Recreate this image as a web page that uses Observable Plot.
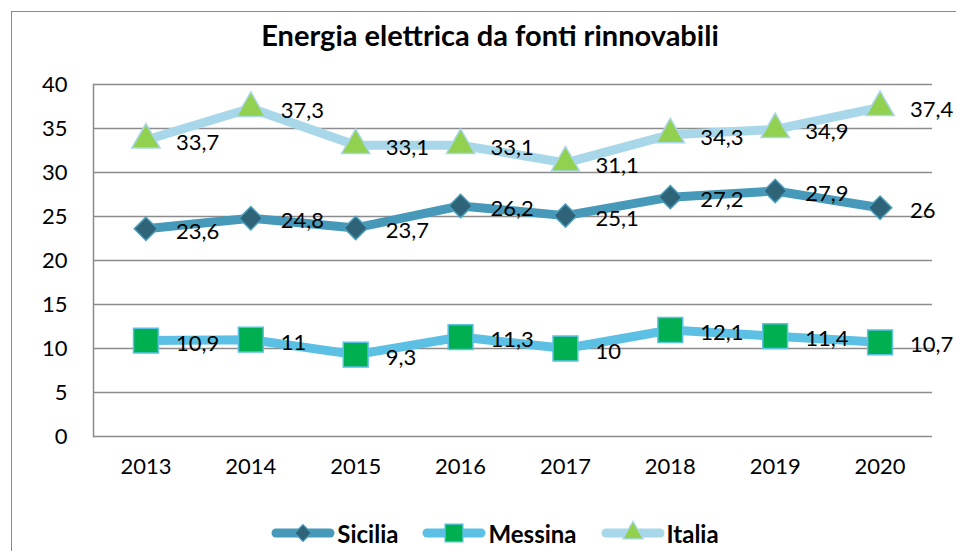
<!DOCTYPE html>
<html>
<head>
<meta charset="utf-8">
<script src="https://cdn.jsdelivr.net/npm/d3@7"></script>
<script src="https://cdn.jsdelivr.net/npm/@observablehq/plot@0.6"></script>
<style>
  html, body { margin: 0; padding: 0; background: #fff; }
  #wrap { position: relative; width: 956px; height: 551px; overflow: hidden; font-family: Lato, "Open Sans", sans-serif; }
  #border { position: absolute; left: 11px; top: 11px; width: 1000px; height: 600px; border-left: 1px solid #8a8a8a; border-top: 1px solid #8a8a8a; }
  #title { position: absolute; left: 0; top: 17px; width: 980px; text-align: center; font-weight: 700; font-size: 29px; color: #000; }
  #chart { position: absolute; left: 0; top: 60px; }
  #legend { position: absolute; left: 0; top: 518px; width: 990px; display: flex; justify-content: center; align-items: center; gap: 24px; }
  .item { display: flex; align-items: center; gap: 2px; font-weight: 700; font-size: 24px; color: #000; }
  .item svg { display: block; }
</style>
</head>
<body>
<div id="wrap">
  <div id="border"></div>
  <div id="title">Energia elettrica da fonti rinnovabili</div>
  <div id="chart"></div>
  <div id="legend"></div>
</div>
<script>
// ---- data ----
const years = ["2013", "2014", "2015", "2016", "2017", "2018", "2019", "2020"];
const seriesNames = ["Sicilia", "Messina", "Italia"];
const sicilia = [23.6, 24.8, 23.7, 26.2, 25.1, 27.2, 27.9, 26];
const messina = [10.9, 11, 9.3, 11.3, 10, 12.1, 11.4, 10.7];
const italia = [33.7, 37.3, 33.1, 33.1, 31.1, 34.3, 34.9, 37.4];
const yTicks = [0, 5, 10, 15, 20, 25, 30, 35, 40];

// ---- styles ----
const styles = {
  Sicilia: { line: "#4699B8", fill: "#2E6378", stroke: "#4A9DBD", symbol: "diamond2", r: 10.5 },
  Messina: { line: "#5BC0E3", fill: "#00B050", stroke: "#5BC0E3", symbol: "square", r: 14 },
  Italia:  { line: "#A8D7EA", fill: "#92D050", stroke: "#A8D7EA", symbol: "triangle", r: 10.5 }
};

const valuesBySeries = { Sicilia: sicilia, Messina: messina, Italia: italia };
const rows = seriesNames.flatMap(s => years.map((y, i) => ({ series: s, year: y, value: valuesBySeries[s][i] })));
const fmt = v => String(v).replace(".", ",");

const marks = [
  Plot.gridY(yTicks, { stroke: "#8c8c8c", strokeOpacity: 1, strokeWidth: 1.5 }),
  Plot.frame({ anchor: "left", stroke: "#8c8c8c", strokeWidth: 1.5 }),
  Plot.axisY(yTicks, { tickSize: 0, tickPadding: 26, fontSize: 22, tickFormat: d => String(d) }),
  Plot.axisX({ tickSize: 0, tickPadding: 22, fontSize: 22 })
];
for (const s of seriesNames) {
  const st = styles[s];
  const data = rows.filter(d => d.series === s);
  marks.push(Plot.line(data, { x: "year", y: "value", stroke: st.line, strokeWidth: 9, strokeLinejoin: "round", strokeLinecap: "round" }));
  marks.push(Plot.dot(data, { x: "year", y: "value", symbol: st.symbol, r: st.r, fill: st.fill, stroke: st.stroke, strokeWidth: 1.5 }));
}
for (const s of seriesNames) {
  const data = rows.filter(d => d.series === s);
  marks.push(Plot.text(data, { x: "year", y: "value", text: d => fmt(d.value), dx: 30, dy: 3, textAnchor: "start", fontSize: 22, fill: "#000" }));
}

const chart = Plot.plot({
  width: 956,
  height: 430,
  marginTop: 24,
  marginLeft: 93,
  marginRight: 24,
  marginBottom: 54,
  style: { fontFamily: "Lato, 'Open Sans', sans-serif", color: "#000", background: "transparent", overflow: "visible" },
  x: { type: "point", domain: years, padding: 0.5, round: false, label: null },
  y: { domain: [0, 40], label: null },
  marks
});
document.getElementById("chart").appendChild(chart);

// ---- legend ----
const legend = document.getElementById("legend");
for (const s of seriesNames) {
  const st = styles[s];
  const item = document.createElement("div");
  item.className = "item";
  const sym = { diamond2: d3.symbolDiamond2, square: d3.symbolSquare, triangle: d3.symbolTriangle }[st.symbol];
  const area = Math.PI * (st.r * 0.72) ** 2;
  const path = d3.symbol(sym, area)();
  item.innerHTML = `<svg width="64" height="30"><line x1="5" y1="15" x2="59" y2="15" stroke="${st.line}" stroke-width="9" stroke-linecap="round"/>` +
    `<path transform="translate(32,15)" d="${path}" fill="${st.fill}" stroke="${st.stroke}" stroke-width="1.2"/></svg><span>${s}</span>`;
  legend.appendChild(item);
}
</script>
</body>
</html>
